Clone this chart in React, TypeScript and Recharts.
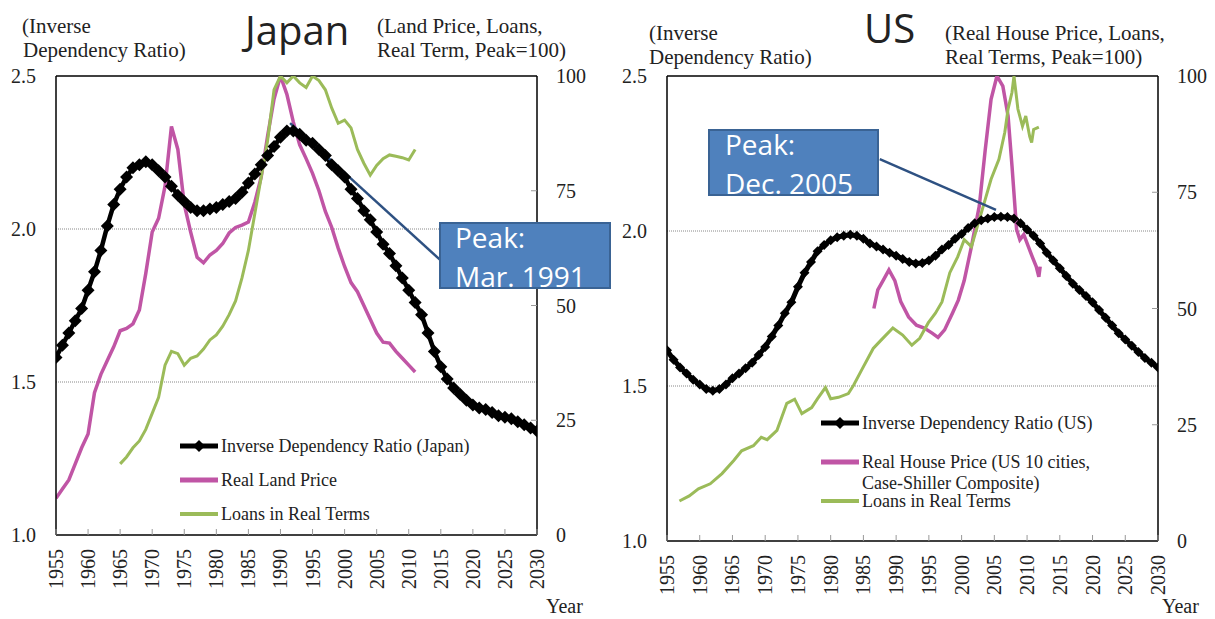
import React from 'react'
import { LineChart, Line, XAxis, YAxis, ReferenceLine } from 'recharts'

const yearTicks = [1955, 1960, 1965, 1970, 1975, 1980, 1985, 1990, 1995, 2000, 2005, 2010, 2015, 2020, 2025, 2030]
const leftTicks = [1.0, 1.5, 2.0, 2.5]
const rightTicks = [0, 25, 50, 75, 100]

const idrYears = [
  1955, 1956, 1957, 1958, 1959, 1960, 1961, 1962, 1963, 1964, 1965, 1966, 1967, 1968, 1969,
  1970, 1971, 1972, 1973, 1974, 1975, 1976, 1977, 1978, 1979, 1980, 1981, 1982, 1983, 1984,
  1985, 1986, 1987, 1988, 1989, 1990, 1991, 1992, 1993, 1994, 1995, 1996, 1997, 1998, 1999,
  2000, 2001, 2002, 2003, 2004, 2005, 2006, 2007, 2008, 2009, 2010, 2011, 2012, 2013, 2014,
  2015, 2016, 2017, 2018, 2019, 2020, 2021, 2022, 2023, 2024, 2025, 2026, 2027, 2028, 2029, 2030,
]

// Japan
const jpIdr = [
  1.58, 1.62, 1.66, 1.70, 1.74, 1.80, 1.86, 1.93, 2.01, 2.08, 2.13, 2.17, 2.20, 2.21, 2.22,
  2.21, 2.19, 2.17, 2.14, 2.11, 2.09, 2.07, 2.06, 2.06, 2.065, 2.07, 2.08, 2.09, 2.10, 2.12,
  2.15, 2.18, 2.21, 2.24, 2.27, 2.30, 2.32, 2.32, 2.31, 2.29, 2.28, 2.26, 2.24, 2.21, 2.19,
  2.17, 2.13, 2.10, 2.06, 2.03, 1.99, 1.95, 1.92, 1.88, 1.84, 1.80, 1.76, 1.72, 1.66, 1.60,
  1.55, 1.51, 1.48, 1.46, 1.44, 1.425, 1.415, 1.41, 1.40, 1.39, 1.385, 1.38, 1.37, 1.36, 1.35, 1.34,
]
const jpLandYears = idrYears.slice(0, 57)
const jpLand = [
  8, 10, 12, 15.5, 19, 22, 31, 35, 38, 41,
  44.5, 45, 46, 49, 57, 66, 69, 76, 89, 84,
  72, 66, 60.5, 59.3, 61, 62, 63.5, 65.8, 67, 67.5,
  68.2, 72.5, 78, 87, 95, 100, 96, 90, 85, 82,
  78.8, 75, 70.5, 67, 62.5, 58.5, 55, 53, 50, 47,
  44, 42, 41.8, 40, 38.5, 37, 35.5,
]
const jpLoanYears = idrYears.slice(10, 57)
const jpLoan = [
  15.5, 17, 19, 20.5, 23, 26.5, 30, 37, 40, 39.5,
  37, 38.5, 39, 40.5, 42.5, 43.6, 45.5, 48, 51, 56,
  62, 70, 78, 86, 97, 100, 98.5, 100, 98.5, 97.5,
  100, 99, 97, 93, 89.7, 90.4, 88.7, 84, 81, 78.4,
  80.5, 82, 82.8, 82.5, 82.2, 81.7, 84,
]

// US
const usIdr = [
  1.615, 1.585, 1.56, 1.54, 1.52, 1.505, 1.49, 1.485, 1.49, 1.505, 1.525, 1.54, 1.557, 1.575, 1.60,
  1.626, 1.66, 1.695, 1.735, 1.77, 1.82, 1.865, 1.90, 1.935, 1.955, 1.97, 1.98, 1.985, 1.988, 1.985,
  1.975, 1.96, 1.95, 1.94, 1.93, 1.92, 1.91, 1.90, 1.895, 1.897, 1.905, 1.92, 1.94, 1.955, 1.975,
  1.99, 2.01, 2.025, 2.035, 2.04, 2.045, 2.046, 2.045, 2.04, 2.025, 2.005, 1.985, 1.96, 1.93, 1.905,
  1.88, 1.855, 1.83, 1.81, 1.79, 1.77, 1.745, 1.72, 1.695, 1.67, 1.65, 1.63, 1.61, 1.59, 1.575, 1.56,
]
const usHouseYears = [
  1986.6, 1987.2, 1988, 1988.9, 1989.8, 1990.7, 1991.9, 1993.1, 1994.3, 1995.5, 1996.4, 1997.4,
  1998.6, 1999.5, 2000.4, 2001.5, 2002.7, 2003.6, 2004.5, 2005.4, 2006.3, 2007.1, 2007.7, 2008.4,
  2008.9, 2009.5, 2010.2, 2010.8, 2011.4, 2011.8, 2012,
]
const usHouse = [
  50, 54, 56, 58.3, 56, 51.5, 48.2, 46.4, 45.8, 44.7, 43.8, 45.4,
  49, 51.8, 56, 63.3, 72, 84, 95, 100, 97.8, 91.4, 80.6, 67,
  64.8, 65.9, 63.3, 61.1, 59, 56.8, 59,
]
const usLoanYears = [
  1956.9, 1958.4, 1959.8, 1961.6, 1963.4, 1965.2, 1966.4, 1968.2, 1969.4, 1970.3,
  1971.8, 1973.3, 1974.5, 1975.6, 1977.1, 1978, 1979.2, 1980, 1981.2, 1982.7,
  1983.5, 1984.7, 1986.5, 1987.7, 1989.5, 1991, 1992.4, 1993.6, 1994.9, 1996,
  1997, 1998.2, 1999.4, 2000.4, 2001.5, 2002.4, 2003.6, 2004.5, 2005.7, 2006.6,
  2007.1, 2007.7, 2008, 2008.6, 2009.3, 2009.8, 2010.4, 2010.7, 2011, 2011.8,
]
const usLoan = [
  8.6, 9.7, 11.2, 12.3, 14.5, 17.3, 19.4, 20.5, 22.3, 21.8,
  23.8, 29.6, 30.5, 27.4, 28.7, 30.6, 33, 30.6, 30.9, 31.7,
  33.5, 36.7, 41.4, 43.2, 45.8, 44.3, 42.1, 43.6, 46.9, 49,
  51.4, 57.7, 61.1, 64.8, 63.3, 67.6, 73.4, 77.8, 82.1, 87.9,
  92.9, 96.5, 100, 92.9, 89.2, 91.4, 87, 85.7, 88.5, 89,
]

const zip = (xs: number[], vs: number[]) => xs.map((year, i) => ({ year, v: vs[i] }))

const SERIF = '"Liberation Serif", "Times New Roman", serif'
const SANS = '"Open Sans", "Noto Sans", sans-serif'
const MAGENTA = '#C055A5'
const GREEN = '#9BBB59'
const BOX = '#4F81BD'
const LEADER = '#2E5182'

const diamond = (r: number) => (p: any) => {
  const { cx, cy, index } = p
  if (cx == null || cy == null) return <g key={`d-${index}`} />
  return (
    <polygon
      key={`d-${index}`}
      points={`${cx},${cy - r} ${cx + r},${cy} ${cx},${cy + r} ${cx - r},${cy}`}
      fill="#000"
    />
  )
}

const YearTick = (p: any) => {
  const { x, y, payload } = p
  return (
    <g>
      <line x1={x} x2={x} y1={y - 14} y2={y - 20} stroke="#999" />
      <text
        x={x}
        y={y}
        dy="0.35em"
        textAnchor="end"
        transform={`rotate(-90 ${x} ${y})`}
        fontSize={20}
        fontFamily={SERIF}
        fill="#222"
      >
        {payload.value}
      </text>
    </g>
  )
}

const RightTick = (p: any) => {
  const { x, y, payload } = p
  const ax = x - 19
  const inner = payload.value > 0 && payload.value < 100
  return (
    <g>
      {inner && <line x1={ax} x2={ax - 6} y1={y} y2={y} stroke="#999" />}
      <text x={x} y={y} dy="0.35em" textAnchor="start" fontSize={20} fontFamily={SERIF} fill="#222">
        {payload.value}
      </text>
    </g>
  )
}

const LeftTick = (p: any) => {
  const { x, y, payload } = p
  return (
    <text x={x} y={y} dy="0.35em" textAnchor="end" fontSize={20} fontFamily={SERIF} fill="#222">
      {Number(payload.value).toFixed(1)}
    </text>
  )
}

interface PanelProps {
  width: number
  leftW: number
  rightW: number
  bottomH: number
  idr: { year: number; v: number }[]
  price: { year: number; v: number }[]
  loans: { year: number; v: number }[]
  dotR: number
  idrWidth: number
  leader: { x: number; y: number }[]
}

function Panel({ width, leftW, rightW, bottomH, idr, price, loans, dotR, idrWidth, leader }: PanelProps) {
  return (
    <LineChart width={width} height={619} margin={{ top: 76, right: 0, bottom: 0, left: 0 }}>
      <XAxis
        type="number"
        dataKey="year"
        domain={[1955, 2030]}
        ticks={yearTicks}
        interval={0}
        allowDataOverflow
        height={bottomH}
        tickSize={0}
        tickMargin={14}
        tick={YearTick}
        axisLine={{ stroke: '#000', strokeWidth: 1.5 }}
      />
      <YAxis
        yAxisId="l"
        domain={[1, 2.5]}
        ticks={leftTicks}
        allowDataOverflow
        width={leftW}
        tickSize={0}
        tickMargin={20}
        tick={LeftTick}
        axisLine={{ stroke: '#000', strokeWidth: 1.5 }}
      />
      <YAxis
        yAxisId="r"
        orientation="right"
        domain={[0, 100]}
        ticks={rightTicks}
        allowDataOverflow
        width={rightW}
        tickSize={0}
        tickMargin={19}
        tick={RightTick}
        axisLine={{ stroke: '#000', strokeWidth: 1.5 }}
      />
      <ReferenceLine yAxisId="l" y={2.0} stroke="#888" strokeDasharray="1 1" />
      <ReferenceLine yAxisId="l" y={1.5} stroke="#888" strokeDasharray="1 1" />
      <ReferenceLine yAxisId="l" y={2.5} stroke="#000" strokeWidth={1.5} />
      <Line
        yAxisId="l"
        data={idr}
        dataKey="v"
        type="linear"
        stroke="#000"
        strokeWidth={idrWidth}
        dot={diamond(dotR)}
        isAnimationActive={false}
      />
      <Line
        yAxisId="r"
        data={price}
        dataKey="v"
        type="linear"
        stroke={MAGENTA}
        strokeWidth={3.5}
        dot={false}
        isAnimationActive={false}
      />
      <Line
        yAxisId="r"
        data={loans}
        dataKey="v"
        type="linear"
        stroke={GREEN}
        strokeWidth={3}
        dot={false}
        isAnimationActive={false}
      />
      <ReferenceLine yAxisId="l" segment={leader} stroke={LEADER} strokeWidth={2.5} ifOverflow="visible" />
    </LineChart>
  )
}

function LegendRows({ x, rows }: { x: number; rows: { y: number; kind: string; lines: string[] }[] }) {
  return (
    <g>
      {rows.map((r) => (
        <g key={r.kind}>
          {r.kind === 'idr' && (
            <>
              <line x1={x} x2={x + 38} y1={r.y} y2={r.y} stroke="#000" strokeWidth={5} />
              <polygon points={`${x + 19},${r.y - 6} ${x + 25},${r.y} ${x + 19},${r.y + 6} ${x + 13},${r.y}`} fill="#000" />
            </>
          )}
          {r.kind === 'price' && <line x1={x} x2={x + 38} y1={r.y} y2={r.y} stroke={MAGENTA} strokeWidth={5} />}
          {r.kind === 'loan' && <line x1={x} x2={x + 38} y1={r.y} y2={r.y} stroke={GREEN} strokeWidth={4} />}
          {r.lines.map((t, i) => (
            <text key={i} x={x + 41} y={r.y + i * 21} dy="0.35em" fontSize={18} fontFamily={SERIF} fill="#222">
              {t}
            </text>
          ))}
        </g>
      ))}
    </g>
  )
}

export default function App() {
  const txt = { fontFamily: SERIF, fontSize: 21, fill: '#222' }
  return (
    <div style={{ position: 'absolute', left: 0, top: 0, width: 1215, height: 619, background: '#fff', overflow: 'hidden' }}>
      <div style={{ position: 'absolute', left: 0, top: 0 }}>
        <Panel
          width={600}
          leftW={56}
          rightW={63}
          bottomH={84}
          idr={zip(idrYears, jpIdr)}
          price={zip(jpLandYears, jpLand)}
          loans={zip(jpLoanYears, jpLoan)}
          dotR={6.5}
          idrWidth={4.5}
          leader={[{ x: 1991.5, y: 2.346 }, { x: 2014.9, y: 1.899 }]}
        />
      </div>
      <div style={{ position: 'absolute', left: 600, top: 0 }}>
        <Panel
          width={615}
          leftW={67}
          rightW={57}
          bottomH={78}
          idr={zip(idrYears, usIdr)}
          price={zip(usHouseYears, usHouse)}
          loans={zip(usLoanYears, usLoan)}
          dotR={5}
          idrWidth={5}
          leader={[{ x: 2005.25, y: 2.068 }, { x: 1987.5, y: 2.232 }]}
        />
      </div>
      <svg width={1215} height={619} style={{ position: 'absolute', left: 0, top: 0, pointerEvents: 'none' }}>
        {/* Japan panel texts */}
        <text x={22} y={33} {...txt}>(Inverse</text>
        <text x={23} y={57} {...txt}>Dependency Ratio)</text>
        <text x={245} y={45} fontFamily={SANS} fontSize={40} fill="#222">Japan</text>
        <text x={377} y={33} {...txt}>(Land Price, Loans,</text>
        <text x={377} y={57} {...txt}>Real Term, Peak=100)</text>
        <text x={546} y={613} fontFamily={SERIF} fontSize={20} fill="#222">Year</text>
        <LegendRows
          x={180}
          rows={[
            { y: 446, kind: 'idr', lines: ['Inverse Dependency Ratio (Japan)'] },
            { y: 480, kind: 'price', lines: ['Real Land Price'] },
            { y: 514, kind: 'loan', lines: ['Loans in Real Terms'] },
          ]}
        />
        <rect x={440} y={223} width={170} height={65} fill={BOX} stroke="#3A6394" strokeWidth={2} />
        <text x={455} y={248} fontFamily={SANS} fontSize={28} fill="#fff">Peak:</text>
        <text x={455} y={287} fontFamily={SANS} fontSize={28} fill="#fff">Mar. 1991</text>

        {/* US panel texts */}
        <text x={649} y={40} {...txt}>(Inverse</text>
        <text x={649} y={64} {...txt}>Dependency Ratio)</text>
        <text x={864} y={43} fontFamily={SANS} fontSize={40} fill="#222">US</text>
        <text x={945} y={40} {...txt}>(Real House Price, Loans,</text>
        <text x={945} y={64} {...txt}>Real Terms, Peak=100)</text>
        <text x={1162} y={613} fontFamily={SERIF} fontSize={20} fill="#222">Year</text>
        <LegendRows
          x={821}
          rows={[
            { y: 423, kind: 'idr', lines: ['Inverse Dependency Ratio (US)'] },
            { y: 462, kind: 'price', lines: ['Real House Price (US 10 cities,', 'Case-Shiller Composite)'] },
            { y: 501, kind: 'loan', lines: ['Loans in Real Terms'] },
          ]}
        />
        <rect x={709} y={130} width={169} height={65} fill={BOX} stroke="#3A6394" strokeWidth={2} />
        <text x={725} y={155} fontFamily={SANS} fontSize={28} fill="#fff">Peak:</text>
        <text x={725} y={194} fontFamily={SANS} fontSize={28} fill="#fff">Dec. 2005</text>
      </svg>
    </div>
  )
}
